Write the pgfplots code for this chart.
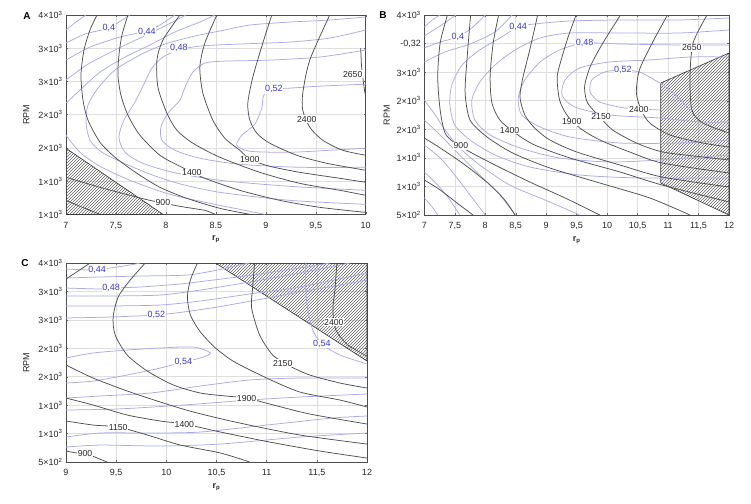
\documentclass[border=0pt]{standalone}
\usepackage{fontspec}
\setmainfont{Liberation Sans}
\usepackage{pgfplots}
\pgfplotsset{compat=1.18}
\usetikzlibrary{patterns}
\definecolor{kline}{RGB}{80,80,80}
\definecolor{bline}{RGB}{170,170,230}
\definecolor{blab}{RGB}{55,55,210}
\newcommand{\tk}[2]{#1×10\textsuperscript{#2}}
\pgfplotsset{
  panel/.style={scale only axis, enlargelimits=false, clip=true,
    axis line style={draw=black!70, line width=0.9pt},
    grid=major, major grid style={draw=black!13, line width=0.5pt},
    tick align=inside, major tick length=2pt, tick style={draw=black!60, line width=0.4pt},
    ticklabel style={font=\fontsize{9}{10}\selectfont, text=black!85},
    xticklabel shift=4pt,
    xlabel={\textbf{r}\textsubscript{\textbf{p}}}, ylabel={RPM},
    label style={font=\fontsize{9}{10}\selectfont, text=black!85}},
  blk/.style={draw=kline, line width=0.75pt, smooth, tension=0.45, mark=none},
  blu/.style={draw=bline, line width=0.75pt, smooth, tension=0.45, mark=none},
  hatch/.style={draw=black!80, line width=0.6pt, pattern=north east lines, pattern color=black!60, mark=none},
  klab/.style={draw=none, mark=none, nodes near coords, point meta=explicit symbolic,
    every node near coord/.append style={anchor=center, fill=white, inner sep=0.7pt, font=\fontsize{8.7}{10}\selectfont, text=black!85}},
  blab/.style={draw=none, mark=none, nodes near coords, point meta=explicit symbolic,
    every node near coord/.append style={anchor=center, fill=white, inner sep=0.7pt, font=\fontsize{9}{10}\selectfont, text=blab}},
}
\begin{document}
\begin{tikzpicture}
\path[use as bounding box] (0pt,0pt) rectangle (751pt,-503pt);
\node[font=\bfseries\fontsize{10}{12}\selectfont] at (27pt,-16pt) {A};
\node[font=\bfseries\fontsize{10}{12}\selectfont] at (383pt,-15pt) {B};
\node[font=\bfseries\fontsize{10}{12}\selectfont] at (25pt,-263pt) {C};
% ---------------- Panel A ----------------
\begin{axis}[panel, at={(66pt,-214.3pt)}, anchor=south west, width=299.7pt, height=199.3pt,
  ylabel shift=2pt,
  xmin=7, xmax=10, ymin=1000, ymax=4000,
  xtick={7,7.5,8,8.5,9,9.5,10}, xticklabels={7,{7,5},8,8.5,9,{9,5},10},
  ytick={1000,1500,2000,2500,3000,3500,4000},
  yticklabels={\tk13,\tk13,\tk23,\tk23,\tk33,\tk33,\tk43}]
\addplot[hatch] coordinates {(7,1000)(7,1994)(7.97,1000)(7,1000)};
% efficiency
\addplot[blu] coordinates {(7.00,3774)(7.10,3894)(7.20,4000)};
\addplot[blu] coordinates {(7.00,3578)(7.19,3713)(7.43,3804)(7.56,3925)(7.64,4000)};
\addplot[blu] coordinates {(7.00,3321)(7.24,3517)(7.54,3668)(7.81,3759)(7.94,3849)(8.09,4000)};
\addplot[blu] coordinates {(7.00,3020)(7.22,3261)(7.49,3472)(7.74,3653)(7.99,3834)(8.20,4000)};
\addplot[blu] coordinates {(7.00,2673)(7.16,2899)(7.34,3140)(7.59,3367)(7.84,3548)(8.09,3744)(8.34,3894)(8.49,4000)};
\addplot[blu] coordinates {(10.0,3970)(9.64,3925)(9.24,3894)(8.84,3849)(8.59,3774)(8.29,3683)(7.99,3563)(7.74,3397)(7.49,3171)(7.32,2899)(7.22,2643)(7.20,2386)(7.24,2115)(7.36,1934)(7.56,1783)(7.82,1617)(8.12,1466)(8.54,1331)(9.24,1210)(10.0,1150)};
\addplot[blu] coordinates {(10.0,3774)(9.64,3653)(9.24,3593)(8.74,3563)(8.34,3533)(8.13,3472)(7.97,3367)(7.86,3201)(7.79,2990)(7.69,2688)(7.58,2417)(7.53,2160)(7.59,1934)(7.77,1768)(8.07,1632)(8.54,1512)(9.24,1421)(10.0,1361)};
\addplot[blu] coordinates {(10.0,3472)(9.54,3367)(9.04,3321)(8.59,3306)(8.39,3276)(8.27,3140)(8.20,2944)(8.14,2718)(8.02,2522)(7.95,2311)(7.96,2115)(8.09,1964)(8.34,1844)(8.74,1753)(9.34,1708)(10.0,1708)};
\addplot[blu] coordinates {(10.0,2959)(9.54,2929)(9.24,2899)(9.08,2884)(8.98,2794)(8.96,2598)(8.89,2356)(8.76,2190)(8.71,2040)(8.84,1949)(9.24,1934)(9.64,1964)(10.0,1994)};
\addplot[blu] coordinates {(7.00,2190)(7.14,1934)(7.34,1723)(7.64,1512)(8.04,1301)(8.54,1135)(8.99,1000)};
% power
\addplot[blk] coordinates {(7.00,1210)(7.14,1120)(7.34,1000)};
\addplot[blk] coordinates {(7.00,1557)(7.34,1406)(7.64,1286)(7.84,1210)(8.14,1120)(8.39,1059)(8.49,1000)};
\addplot[blk] coordinates {(7.31,4000)(7.24,3774)(7.18,3472)(7.15,3095)(7.17,2718)(7.22,2417)(7.34,2085)(7.49,1859)(7.71,1617)(7.94,1406)(8.21,1240)(8.54,1090)(8.84,1000)};
\addplot[blk] coordinates {(7.62,4000)(7.56,3698)(7.53,3397)(7.52,3095)(7.55,2794)(7.62,2492)(7.74,2190)(7.94,1889)(8.16,1708)(8.39,1542)(8.74,1361)(9.14,1210)(9.54,1105)(10.0,1029)};
\addplot[blk] coordinates {(8.14,4000)(7.97,3623)(7.91,3321)(7.92,2914)(8.01,2522)(8.11,2266)(8.27,2070)(8.54,1859)(8.94,1632)(9.34,1466)(9.74,1361)(10.0,1286)};
\addplot[blk] coordinates {(8.51,4000)(8.39,3578)(8.34,3216)(8.37,2824)(8.47,2417)(8.59,2145)(8.74,1964)(8.84,1828)(9.04,1723)(9.34,1632)(9.74,1542)(10.0,1482)};
\addplot[blk] coordinates {(9.06,4000)(8.97,3578)(8.87,3065)(8.82,2673)(8.84,2417)(8.91,2221)(9.04,2070)(9.31,1889)(9.61,1768)(10.0,1663)};
\addplot[blk] coordinates {(9.64,4000)(9.44,3321)(9.37,2824)(9.37,2567)(9.44,2311)(9.57,2115)(9.77,1964)(10.0,1889)};
\addplot[blk] coordinates {(9.95,3500)(9.96,3200)(9.99,2850)(10.0,2800)};
\addplot[klab] table[meta=lab] {
x y lab
7.97 1175 900
8.26 1632 1400
8.84 1828 1900
9.41 2432 2400
9.87 3110 2650
};
\addplot[blab] table[meta=lab] {
x y lab
7.43 3800 0,4
7.81 3750 0,44
8.13 3500 0,48
9.08 2884 0,52
};
\end{axis}
% ---------------- Panel B ----------------
\begin{axis}[panel, at={(424.3pt,-215pt)}, anchor=south west, width=304.7pt, height=200pt,
  xmin=7, xmax=12, ymin=500, ymax=4000,
  xtick={7,7.5,8,8.5,9,9.5,10,10.5,11,11.5,12},
  xticklabels={7,{7,5},8,{8,5},9,{9,5},10,{10,5},11,{11,5},12},
  ytick={500,1000,1500,2000,2500,3000,3500,4000},
  yticklabels={\tk52,\tk13,\tk13,\tk23,\tk23,\tk33,{-0,32},\tk43}]
\addplot[hatch] coordinates {(10.88,2810)(12,3335)(12,500)(10.88,1060)(10.88,2810)};
% efficiency
\addplot[blu] coordinates {(7.00,3790)(7.13,3913)(7.26,4000)};
\addplot[blu] coordinates {(7.00,3633)(7.26,3808)(7.52,4000)};
\addplot[blu] coordinates {(7.00,3423)(7.26,3528)(7.55,3615)(7.78,3773)(8.00,4000)};
\addplot[blu] coordinates {(7.00,3178)(7.34,3353)(7.75,3493)(8.16,3703)(8.44,4000)};
\addplot[blu] coordinates {(12.00,3948)(11.19,3913)(10.21,3913)(9.39,3895)(8.81,3843)(8.54,3790)(8.24,3598)(7.91,3388)(7.62,3125)(7.45,2775)(7.42,2425)(7.50,2075)(7.75,1813)(8.16,1550)(8.73,1340)(9.55,1200)(10.53,1148)(12.00,1148)};
\addplot[blu] coordinates {(12.00,3738)(11.19,3685)(10.21,3685)(9.39,3685)(8.90,3598)(8.49,3388)(8.16,3125)(7.91,2828)(7.78,2513)(7.83,2163)(8.08,1900)(8.57,1673)(9.22,1498)(10.04,1428)(10.86,1463)(12.00,1550)};
\addplot[blu] coordinates {(12.00,3475)(11.19,3475)(10.21,3493)(9.63,3510)(9.22,3388)(8.90,3178)(8.65,2863)(8.54,2548)(8.60,2250)(8.90,2040)(9.39,1865)(10.21,1760)(11.19,1760)(12.00,1813)};
\addplot[blu] coordinates {(12.00,3265)(11.36,3265)(10.70,3213)(10.04,3178)(9.55,3073)(9.31,2863)(9.26,2600)(9.47,2390)(10.04,2250)(10.86,2198)(11.52,2128)(12.00,2128)};
\addplot[blu] coordinates {(11.36,2338)(11.03,2688)(10.78,2863)(10.53,3003)(10.26,3038)(9.96,3003)(9.75,2863)(9.72,2653)(9.88,2478)(10.29,2373)(10.86,2338)};
\addplot[blu] coordinates {(7.00,2513)(7.18,2250)(7.34,1988)(7.58,1673)(7.91,1375)(8.40,1025)(8.98,763)(9.55,500)};
\addplot[blu] coordinates {(7.00,2163)(7.26,1900)(7.58,1550)(7.91,1200)(8.24,850)(8.49,500)};
\addplot[blu] coordinates {(7.00,1725)(7.26,1498)(7.50,1200)(7.75,850)(8.00,500)};
\addplot[blu] coordinates {(7.00,1253)(7.22,1025)(7.42,763)(7.58,500)};
\addplot[blu] coordinates {(7.00,798)(7.13,640)(7.22,500)};
% power
\addplot[blk] coordinates {(11.64,4000)(11.41,3510)(11.36,2915)(11.39,2338)(11.57,2110)(12.00,1935)};
\addplot[blk] coordinates {(10.99,4000)(10.74,3510)(10.53,3038)(10.48,2635)(10.56,2338)(10.70,2110)(11.03,1900)(11.57,1760)(12.00,1690)};
\addplot[blk] coordinates {(10.22,4000)(9.93,3510)(9.72,3090)(9.63,2740)(9.68,2460)(9.88,2215)(10.09,1988)(10.48,1760)(10.91,1603)(11.57,1515)(12.00,1463)};
\addplot[blk] coordinates {(9.49,4000)(9.36,3615)(9.26,3265)(9.18,2915)(9.22,2513)(9.34,2250)(9.55,2023)(9.88,1813)(10.37,1603)(10.90,1410)(12.00,1235)};
\addplot[blk] coordinates {(8.86,4000)(8.73,3388)(8.62,2915)(8.57,2565)(8.65,2250)(8.81,2023)(9.06,1813)(9.50,1603)(10.21,1375)(10.90,1165)(12.00,990)};
\addplot[blk] coordinates {(8.22,4000)(8.13,3510)(8.08,2915)(8.11,2460)(8.24,2163)(8.49,1935)(8.81,1725)(9.39,1498)(10.21,1253)(10.90,1025)(12.00,728)};
\addplot[blk] coordinates {(7.76,4000)(7.70,3213)(7.67,2635)(7.75,2163)(8.03,1865)(8.45,1585)(9.06,1323)(9.88,1060)(10.70,798)(11.36,500)};
\addplot[blk] coordinates {(7.38,4000)(7.26,3510)(7.22,2915)(7.26,2338)(7.34,1935)(7.50,1760)(7.75,1603)(8.16,1375)(8.73,1078)(9.31,798)(9.88,500)};
\addplot[blk] coordinates {(7.00,1848)(7.26,1673)(7.67,1375)(8.08,1025)(8.32,763)(8.49,500)};
\addplot[blk] coordinates {(7.00,1113)(7.26,938)(7.58,675)(7.80,500)};
\addplot[klab] table[meta=lab] {
x y lab
7.60 1708 900
8.40 1975 1400
9.42 2128 1900
9.90 2215 2150
10.52 2338 2400
11.39 3423 2650
};
\addplot[blab] table[meta=lab] {
x y lab
7.55 3615 0,4
8.54 3790 0,44
9.63 3510 0,48
10.26 3038 0,52
};
\end{axis}
% ---------------- Panel C ----------------
\begin{axis}[panel, at={(66pt,-462pt)}, anchor=south west, width=301pt, height=199pt,
  ylabel shift=2pt,
  xmin=9, xmax=12, ymin=500, ymax=4000,
  xtick={9,9.5,10,10.5,11,11.5,12}, xticklabels={9,{9,5},10,{10,5},11,{11,5},12},
  ytick={500,1000,1500,2000,2500,3000,3500,4000},
  yticklabels={\tk52,\tk13,\tk13,\tk23,\tk23,\tk33,\tk33,\tk43}]
\addplot[hatch] coordinates {(10.49,4000)(12,4000)(12,2276)(10.49,4000)};
% efficiency
\addplot[blu] coordinates {(9.00,3894)(9.21,3877)(9.31,3877)(9.44,3912)(9.64,3965)(9.74,4000)};
\addplot[blu] coordinates {(9.00,3736)(9.34,3754)(9.74,3771)(10.21,3789)(10.51,3877)(10.73,3965)(10.83,4000)};
\addplot[blu] coordinates {(9.00,3560)(9.34,3543)(9.45,3560)(9.74,3578)(10.14,3631)(10.47,3701)(10.86,3789)(11.33,3912)(11.63,4000)};
\addplot[blu] coordinates {(9.00,3420)(9.44,3420)(9.94,3437)(10.34,3525)(10.83,3666)(11.33,3824)(11.73,3965)(11.83,4000)};
\addplot[blu] coordinates {(9.00,3244)(9.44,3244)(9.94,3261)(10.34,3332)(10.83,3455)(11.33,3578)(12.00,3824)};
\addplot[blu] coordinates {(9.00,3033)(9.44,3050)(9.90,3085)(10.17,3138)(10.51,3226)(10.90,3349)(11.33,3490)(11.73,3613)(12.00,3701)};
\addplot[blu] coordinates {(9.00,2329)(9.27,2417)(9.61,2470)(9.94,2505)(10.27,2522)(10.44,2417)(10.34,2329)(10.21,2276)(10.17,2259)(9.94,2153)(9.61,2030)(9.27,1924)(9.00,1889)};
\addplot[blu] coordinates {(11.39,4000)(11.39,3525)(11.41,3173)(11.46,2821)(11.55,2575)(11.73,2382)(12.00,2224)};
\addplot[blu] coordinates {(9.00,1625)(9.34,1661)(9.84,1713)(10.34,1837)(10.83,1942)(11.33,1977)(12.00,1977)};
\addplot[blu] coordinates {(9.00,1415)(9.51,1432)(10.17,1502)(10.83,1590)(11.33,1643)(12.00,1696)};
\addplot[blu] coordinates {(9.00,939)(9.34,1010)(9.84,1010)(10.34,1027)(11.00,1150)(11.66,1274)(12.00,1309)};
\addplot[blu] coordinates {(9.00,763)(9.34,798)(9.94,781)(10.54,816)(11.33,939)(12.00,1010)};
% power
\addplot[blk] coordinates {(9.00,3719)(9.12,3859)(9.24,4000)};
\addplot[blk] coordinates {(9.79,4000)(9.64,3701)(9.52,3402)(9.47,3050)(9.49,2734)(9.61,2382)(9.81,2100)(10.07,1854)(10.34,1713)(10.59,1661)(10.80,1625)(11.03,1520)(11.43,1344)(12.00,1168)};
\addplot[blk] coordinates {(10.31,4000)(10.24,3701)(10.21,3402)(10.24,3085)(10.34,2786)(10.49,2505)(10.68,2259)(11.00,1977)(11.33,1731)(11.73,1590)(12.00,1467)};
\addplot[blk] coordinates {(10.88,4000)(10.86,3560)(10.85,3208)(10.93,2734)(11.06,2382)(11.23,2188)(11.43,2030)(11.73,1889)(12.00,1801)};
\addplot[blk] coordinates {(11.70,4000)(11.68,3525)(11.66,3173)(11.69,2821)(11.81,2558)(12.00,2364)};
\addplot[blk] coordinates {(9.00,2206)(9.27,1977)(9.61,1749)(9.94,1555)(10.27,1379)(10.73,1186)(11.33,975)(12.00,816)};
\addplot[blk] coordinates {(9.00,1625)(9.27,1502)(9.61,1326)(9.94,1221)(10.18,1168)(10.54,1027)(11.03,851)(11.53,693)(12.00,570)};
\addplot[blk] coordinates {(9.00,1221)(9.27,1150)(9.52,1115)(9.81,975)(10.14,798)(10.54,658)(10.83,500)};
\addplot[blk] coordinates {(9.00,693)(9.11,658)(9.19,658)(9.31,570)(9.41,500)};
\addplot[klab] table[meta=lab] {
x y lab
9.19 658 900
9.52 1115 1150
10.18 1168 1400
10.80 1625 1900
11.16 2241 2150
11.67 2962 2400
};
\addplot[blab] table[meta=lab] {
x y lab
9.31 3877 0,44
9.45 3560 0,48
9.90 3085 0,52
10.17 2259 0,54
11.55 2575 0,54
};
\end{axis}
\end{tikzpicture}
\end{document}
